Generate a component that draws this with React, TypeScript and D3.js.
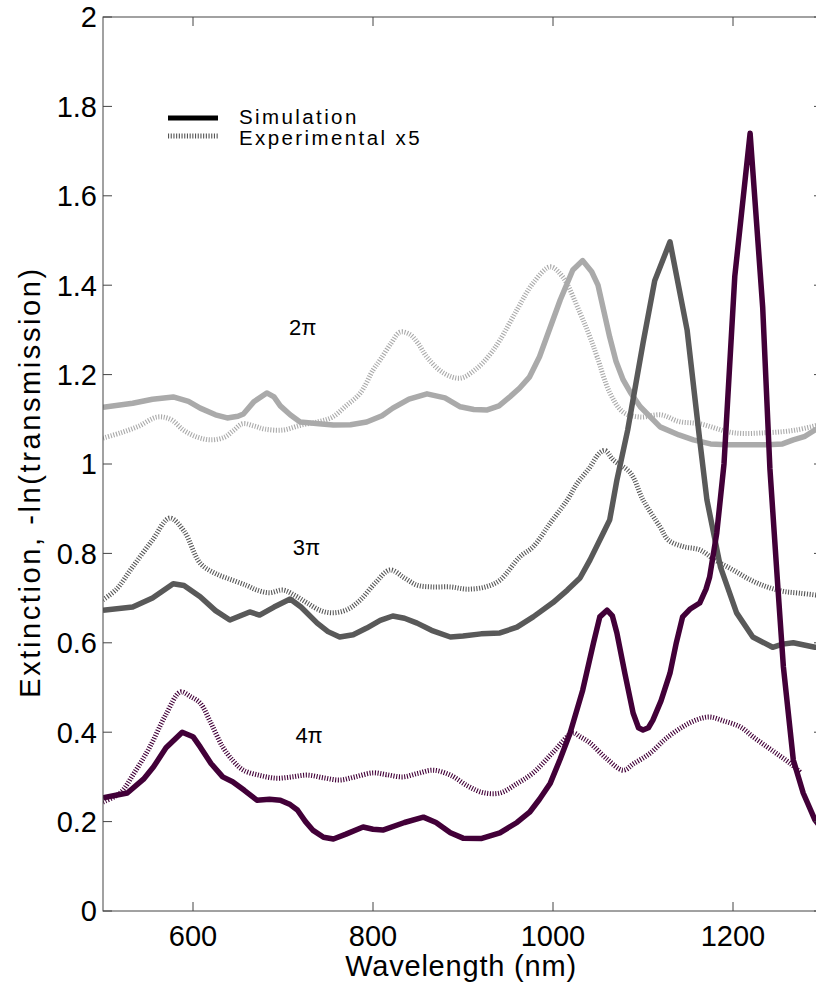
import React from "react";
import * as d3 from "d3";

type P = [number, number];

const sim2pi: P[] = [[500,1.127],[533,1.136],[555,1.145],[578,1.15],[595,1.14],[608,1.125],[625,1.11],[638,1.103],[650,1.107],[656,1.112],[668,1.14],[682,1.159],[690,1.15],[697,1.13],[708,1.11],[719,1.094],[740,1.09],[756,1.087],[775,1.088],[793,1.094],[810,1.108],[822,1.125],[840,1.145],[860,1.157],[880,1.148],[897,1.128],[912,1.122],[927,1.121],[940,1.13],[952,1.15],[963,1.17],[974,1.195],[985,1.24],[993,1.284],[1008,1.367],[1022,1.434],[1033,1.455],[1043,1.43],[1050,1.40],[1063,1.284],[1070,1.23],[1078,1.188],[1086,1.16],[1097,1.128],[1119,1.083],[1140,1.065],[1156,1.054],[1175,1.045],[1193,1.043],[1215,1.043],[1238,1.043],[1255,1.045],[1267,1.054],[1280,1.062],[1291,1.076],[1300,1.085]];

const exp2pi: P[] = [[500,1.058],[520,1.07],[540,1.085],[560,1.105],[575,1.1],[590,1.075],[605,1.06],[620,1.054],[635,1.06],[645,1.075],[655,1.09],[668,1.085],[680,1.078],[700,1.076],[720,1.087],[740,1.095],[755,1.105],[770,1.13],[786,1.159],[800,1.21],[808,1.233],[820,1.27],[830,1.295],[841,1.29],[850,1.27],[860,1.239],[878,1.204],[897,1.192],[916,1.215],[930,1.245],[941,1.277],[960,1.345],[978,1.405],[997,1.441],[1011,1.418],[1030,1.338],[1040,1.29],[1049,1.24],[1063,1.16],[1078,1.116],[1097,1.105],[1120,1.11],[1140,1.095],[1163,1.09],[1200,1.07],[1238,1.07],[1270,1.076],[1300,1.09]];

const sim3pi: P[] = [[500,0.673],[533,0.68],[555,0.70],[578,0.732],[590,0.728],[608,0.703],[625,0.672],[641,0.651],[652,0.66],[663,0.669],[674,0.662],[690,0.68],[708,0.698],[720,0.68],[738,0.644],[750,0.625],[763,0.613],[778,0.618],[793,0.633],[808,0.65],[822,0.66],[835,0.655],[849,0.644],[865,0.628],[886,0.613],[900,0.615],[920,0.62],[941,0.622],[960,0.635],[978,0.658],[1000,0.69],[1016,0.718],[1030,0.745],[1041,0.785],[1056,0.846],[1063,0.875],[1071,0.964],[1083,1.076],[1100,1.27],[1113,1.41],[1130,1.497],[1149,1.30],[1163,1.054],[1171,0.92],[1186,0.77],[1204,0.667],[1222,0.613],[1244,0.59],[1255,0.597],[1267,0.60],[1291,0.59],[1300,0.59]];

const exp3pi: P[] = [[500,0.696],[515,0.72],[533,0.77],[555,0.83],[574,0.879],[590,0.85],[608,0.778],[625,0.755],[644,0.74],[660,0.728],[671,0.718],[685,0.712],[700,0.718],[714,0.705],[727,0.689],[742,0.672],[756,0.667],[772,0.675],[786,0.696],[803,0.735],[819,0.763],[835,0.745],[849,0.729],[865,0.725],[886,0.725],[905,0.72],[925,0.725],[941,0.74],[963,0.792],[978,0.815],[997,0.868],[1016,0.92],[1027,0.957],[1040,0.99],[1052,1.025],[1058,1.03],[1067,1.009],[1086,0.98],[1100,0.92],[1119,0.859],[1128,0.83],[1145,0.815],[1163,0.808],[1180,0.785],[1200,0.763],[1220,0.74],[1238,0.725],[1256,0.715],[1274,0.711],[1300,0.705]];

const sim4pi: P[] = [[500,0.253],[527,0.264],[545,0.295],[556,0.322],[570,0.365],[588,0.40],[600,0.39],[608,0.367],[620,0.33],[633,0.30],[644,0.289],[657,0.27],[671,0.248],[685,0.25],[697,0.248],[708,0.238],[716,0.226],[725,0.2],[733,0.181],[745,0.165],[756,0.161],[770,0.172],[789,0.188],[800,0.183],[811,0.181],[835,0.198],[856,0.21],[870,0.198],[886,0.175],[900,0.163],[920,0.162],[941,0.175],[960,0.198],[974,0.221],[985,0.25],[997,0.286],[1008,0.34],[1019,0.398],[1033,0.494],[1045,0.6],[1052,0.658],[1060,0.673],[1066,0.66],[1071,0.622],[1080,0.53],[1089,0.443],[1095,0.41],[1100,0.405],[1106,0.41],[1111,0.427],[1120,0.47],[1130,0.532],[1137,0.6],[1144,0.658],[1152,0.675],[1163,0.689],[1170,0.72],[1174,0.747],[1182,0.846],[1190,1.0],[1202,1.42],[1219,1.74],[1233,1.35],[1241,0.99],[1250,0.72],[1256,0.546],[1267,0.338],[1278,0.264],[1291,0.204],[1300,0.18]];

const exp4pi: P[] = [[500,0.244],[519,0.264],[535,0.31],[552,0.367],[570,0.44],[586,0.49],[597,0.48],[608,0.465],[620,0.42],[633,0.367],[645,0.335],[656,0.315],[675,0.303],[693,0.297],[710,0.3],[727,0.304],[745,0.298],[763,0.293],[780,0.3],[800,0.309],[815,0.305],[833,0.30],[850,0.308],[867,0.315],[886,0.304],[905,0.28],[922,0.265],[941,0.264],[960,0.285],[978,0.309],[1000,0.355],[1022,0.398],[1030,0.39],[1041,0.376],[1060,0.34],[1078,0.315],[1090,0.33],[1108,0.353],[1125,0.385],[1144,0.412],[1160,0.428],[1174,0.434],[1190,0.425],[1208,0.412],[1222,0.39],[1238,0.367],[1250,0.35],[1263,0.331],[1275,0.31]];

const xTicks = [600, 800, 1000, 1200];
const yTicks = [0, 0.2, 0.4, 0.6, 0.8, 1, 1.2, 1.4, 1.6, 1.8, 2];
const yTickLabels = ["0", "0.2", "0.4", "0.6", "0.8", "1", "1.2", "1.4", "1.6", "1.8", "2"];

const seriesNames = ["2π", "3π", "4π"];
const seriesColors = ["#aaaaaa", "#595959", "#420038"];
const labelPos: [number, number][] = [[722, 1.289], [726, 0.796], [729, 0.376]];

const W = 816, H = 989;
const L = 103, R = 823, T = 17, B = 911;

export default function App() {
  const x = d3.scaleLinear().domain([500, 1300]).range([L, R]);
  const y = d3.scaleLinear().domain([0, 2]).range([B, T]);
  const line = d3.line<P>().x(d => x(d[0])).y(d => y(d[1])).curve(d3.curveLinear);
  const smooth = d3.line<P>().x(d => x(d[0])).y(d => y(d[1])).curve(d3.curveCatmullRom.alpha(0.5));
  const font = "Liberation Sans, Arial, Helvetica, sans-serif";
  const sims = [sim2pi, sim3pi, sim4pi];
  const exps = [exp2pi, exp3pi, exp4pi];
  const dash = "1.1 1.6";
  return (
    <svg width={W} height={H} style={{ position: "absolute", left: 0, top: 0, background: "#fff" }} fontFamily={font}>
      <rect x={0} y={0} width={W} height={H} fill="#fff" />
      <defs>
        <clipPath id="plot"><rect x={L} y={T} width={R - L} height={B - T} /></clipPath>
      </defs>
      <g clipPath="url(#plot)">
        {exps.map((d, i) => (
          <path key={"e" + i} d={smooth(d) || ""} fill="none" stroke={seriesColors[i]} strokeWidth={5} strokeDasharray={dash} />
        ))}
        {sims.map((d, i) => (
          <path key={"s" + i} d={line(d) || ""} fill="none" stroke={seriesColors[i]} strokeWidth={5.5} strokeLinejoin="round" />
        ))}
      </g>
      <rect x={L} y={T} width={R - L} height={B - T} fill="none" stroke="#444" strokeWidth={1} />
      {xTicks.map(t => (
        <g key={"xt" + t}>
          <line x1={x(t)} x2={x(t)} y1={B} y2={B - 9} stroke="#444" />
          <line x1={x(t)} x2={x(t)} y1={T} y2={T + 9} stroke="#444" />
          <text x={x(t)} y={946} textAnchor="middle" fontSize={29} fill="#000">{t}</text>
        </g>
      ))}
      {yTicks.map((t, i) => (
        <g key={"yt" + t}>
          <line x1={L} x2={L + 9} y1={y(t)} y2={y(t)} stroke="#444" />
          <line x1={R} x2={R - 9} y1={y(t)} y2={y(t)} stroke="#444" />
          <text x={97} y={y(t)} dy="0.36em" textAnchor="end" fontSize={29} fill="#000">{yTickLabels[i]}</text>
        </g>
      ))}
      <text x={461} y={976} textAnchor="middle" fontSize={29} letterSpacing={0.8} fill="#000">Wavelength (nm)</text>
      <text transform={`translate(40,482) rotate(-90)`} textAnchor="middle" fontSize={29} letterSpacing={2.6} fill="#000">Extinction, -ln(transmission)</text>
      <line x1={168} x2={218} y1={118} y2={118} stroke="#000" strokeWidth={5} />
      <text x={239} y={124} fontSize={20.5} letterSpacing={2.4} fill="#000">Simulation</text>
      <line x1={168} x2={218} y1={136} y2={136} stroke="#555" strokeWidth={5} strokeDasharray={dash} />
      <text x={239} y={145} fontSize={20.5} letterSpacing={2.4} fill="#000">Experimental x5</text>
      {seriesNames.map((n, i) => (
        <text key={n} x={x(labelPos[i][0])} y={y(labelPos[i][1])} textAnchor="middle" fontSize={22} fill="#000">{n}</text>
      ))}
    </svg>
  );
}
